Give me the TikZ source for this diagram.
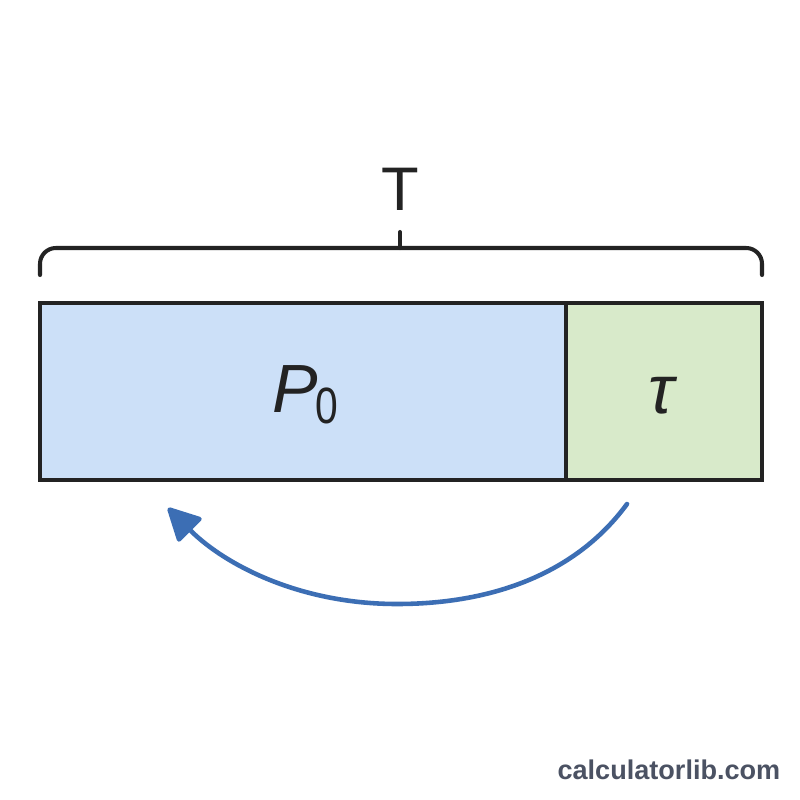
\documentclass[tikz,border=0pt]{standalone}
\usepackage{fontspec}
\setmainfont{Liberation Sans}
\usepackage{tikz}
\usetikzlibrary{positioning,arrows.meta,calc}
\definecolor{ink}{HTML}{232323}
\definecolor{skyfill}{HTML}{CCE0F8}
\definecolor{leaf}{HTML}{D8EACA}
\definecolor{loop}{HTML}{3C6EB4}
\definecolor{mark}{HTML}{4B5263}
\tikzset{
  edge/.style={draw=ink,line width=1.15pt},
  back/.style={draw=loop,line width=1.3pt,line cap=round,-{Triangle[length=10pt,width=10pt,round]}},
}

\begin{document}
\begin{tikzpicture}[x=0.01cm,y=-0.01cm]
\useasboundingbox[fill=white] (0,0) rectangle (800,800);
\fill[skyfill] (40,303) rectangle (566,480);
\fill[leaf] (566,303) rectangle (762,480);
\draw[edge] (40,303) rectangle (762,480);
\draw[edge] (566,303) -- (566,480);
% brace over the whole bar
\coordinate (bl) at (40,275);
\coordinate (br) at (762,275);
\coordinate (bm) at (400,248);
\coordinate (bt) at (400,232);
\draw[edge,line cap=round,rounded corners=4.5pt] (bl) |- (bm) -| (br);
\draw[edge,line cap=round] (bm) -- (bt);
\node[anchor=base,font=\fontsize{17.5}{20}\selectfont,text=ink] (total) at (400,210) {T};
\node[anchor=base west,inner sep=0pt,text=ink] (plabel) at (272,412)
  {\fontsize{19.4}{22}\selectfont\itshape P\kern-0.8pt\raisebox{-3.2pt}{\fontsize{14.5}{16}\selectfont\upshape\scalebox{0.8}[1]{0}}};
\node[anchor=base,inner sep=0pt,text=ink,font=\fontsize{19.5}{22}\selectfont\itshape] (tlabel) at (661,413) {τ};
% return arrow
\coordinate (from) at (627,504);
\coordinate (low) at (397,604);
\coordinate (to) at (168,508);
\draw[back] (from) .. controls (575,575) and (490,604) .. (low)
  .. controls (300,604) and (225,565) .. (to);
\node[anchor=base east,inner sep=0pt,text=mark,font=\fontsize{7.7}{9}\selectfont\bfseries] (site) at (781,779) {calculatorlib.com};
\end{tikzpicture}
\end{document}
